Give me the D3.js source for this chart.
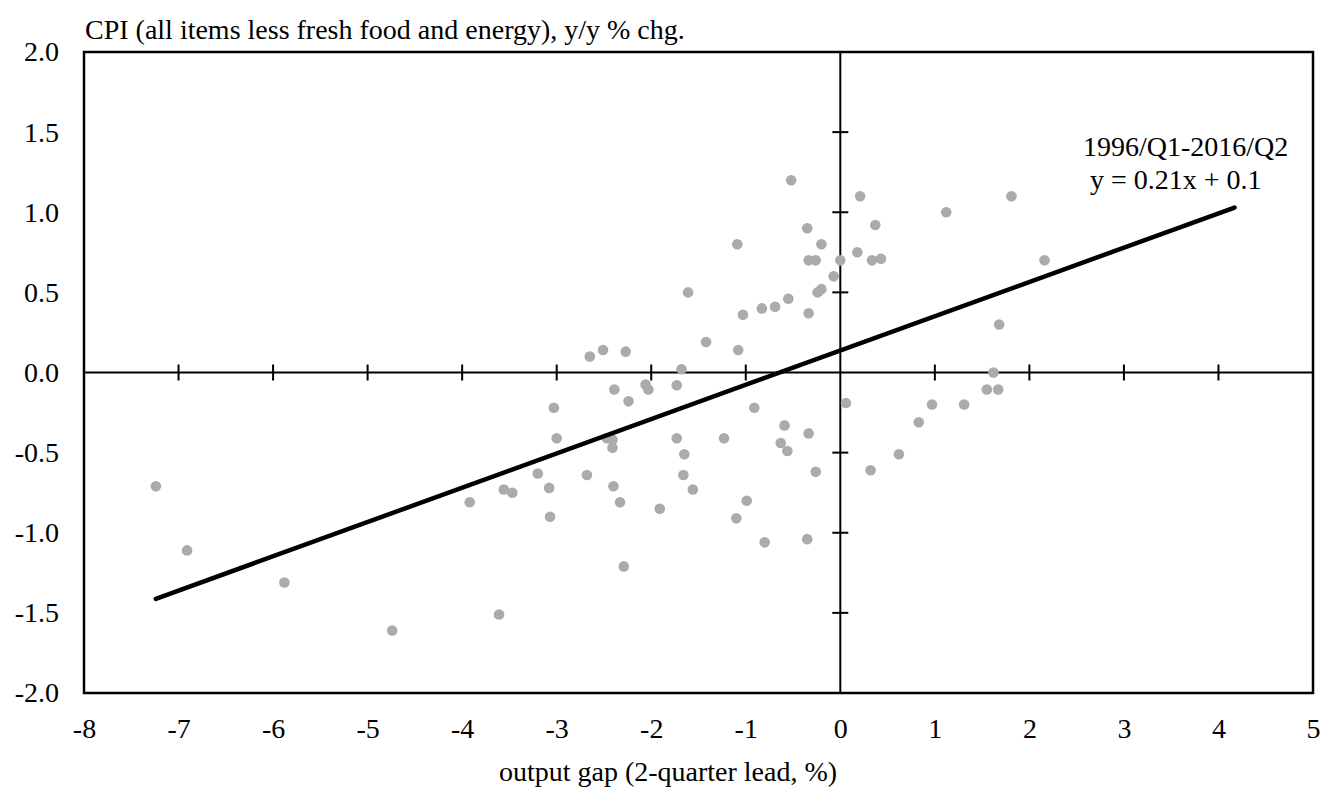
<!DOCTYPE html>
<html>
<head>
<meta charset="utf-8">
<script src="https://cdn.jsdelivr.net/npm/d3@7"></script>
<style>
  html, body { margin: 0; padding: 0; background: #ffffff; }
  svg { display: block; }
  text { font-family: "Liberation Serif", "Times New Roman", serif; fill: #000; }
</style>
</head>
<body>
<svg id="chart" width="1322" height="792"></svg>
<script>
// ---- data ----
const outputGap = [
  -0.52, 0.21, -0.35, 0.37, -1.09, -0.20, -0.335, -0.26, 0.0, 0.18,
  0.335, 0.43, -0.07, -0.24, -0.20, -1.61, -1.03, -0.83, -0.69, -0.55,
  -0.335, -1.42, -1.08, -2.65, -2.51, -2.27, -1.68, 1.12, 1.81, 2.16,
  1.68, 1.62, -2.39, -2.06, -2.03, -1.73, -2.24, -3.03, -0.91, 0.06,
  -0.59, -0.335, -3.0, -2.47, -2.41, -2.41, -1.73, -1.23, -0.63, -0.56,
  -1.65, 0.62, -3.2, -2.68, -1.66, -0.26, 0.32, -3.56, -3.47, -3.08,
  -2.40, -1.56, -2.33, -0.99, -1.91, -3.07, -1.10, -0.80, -0.35, -2.29,
  -7.24, -6.91, -5.88, -4.74, -3.61, -3.92, 1.55, 1.67, 0.97, 1.31, 0.83
];
const cpiCore = [
  1.20, 1.10, 0.90, 0.92, 0.80, 0.80, 0.70, 0.70, 0.70, 0.75,
  0.70, 0.71, 0.60, 0.50, 0.52, 0.50, 0.36, 0.40, 0.41, 0.46,
  0.37, 0.19, 0.14, 0.10, 0.14, 0.13, 0.02, 1.00, 1.10, 0.70,
  0.30, 0.00, -0.106, -0.075, -0.106, -0.08, -0.18, -0.22, -0.22, -0.19,
  -0.33, -0.38, -0.41, -0.41, -0.42, -0.47, -0.41, -0.41, -0.44, -0.49,
  -0.51, -0.51, -0.63, -0.64, -0.64, -0.62, -0.61, -0.73, -0.75, -0.72,
  -0.71, -0.73, -0.81, -0.80, -0.85, -0.90, -0.91, -1.06, -1.04, -1.21,
  -0.71, -1.11, -1.31, -1.61, -1.51, -0.81, -0.106, -0.106, -0.20, -0.20, -0.31
];
const xTicks = [-8, -7, -6, -5, -4, -3, -2, -1, 0, 1, 2, 3, 4, 5];
const yTicks = [-2.0, -1.5, -1.0, -0.5, 0.0, 0.5, 1.0, 1.5, 2.0];
const trendSlope = 0.214;
const trendIntercept = 0.137;
const trendRange = [-7.24, 4.17];
const yTitle = "CPI (all items less fresh food and energy), y/y % chg.";
const xTitle = "output gap (2-quarter lead, %)";
const annotation = ["1996/Q1-2016/Q2", "y = 0.21x + 0.1"];

// ---- layout ----
const svg = d3.select("#chart");
const plot = { left: 84, right: 1313, top: 52, bottom: 693 };
const fontSize = 28;

const x = d3.scaleLinear().domain([xTicks[0], xTicks[xTicks.length - 1]]).range([plot.left, plot.right]);
const y = d3.scaleLinear().domain([yTicks[0], yTicks[yTicks.length - 1]]).range([plot.bottom, plot.top]);

// y tick labels (left of plot)
const yAxis = svg.append("g")
  .attr("transform", `translate(${plot.left},0)`)
  .call(d3.axisLeft(y).tickValues(yTicks).tickSize(0).tickPadding(25).tickFormat(d => d.toFixed(1)));
yAxis.select(".domain").remove();
yAxis.selectAll("text").attr("font-size", fontSize).attr("font-family", "Liberation Serif");

// x tick labels (below plot)
const xAxis = svg.append("g")
  .attr("transform", `translate(0,${plot.bottom})`)
  .call(d3.axisBottom(x).tickValues(xTicks).tickSize(0).tickPadding(25).tickFormat(d => String(d)));
xAxis.select(".domain").remove();
xAxis.selectAll("text").attr("font-size", fontSize).attr("font-family", "Liberation Serif");

// zero lines
svg.append("line")
  .attr("x1", x(xTicks[0])).attr("x2", x(xTicks[xTicks.length - 1]))
  .attr("y1", y(0)).attr("y2", y(0))
  .attr("stroke", "#000").attr("stroke-width", 2);
svg.append("line")
  .attr("x1", x(0)).attr("x2", x(0))
  .attr("y1", y(yTicks[0])).attr("y2", y(yTicks[yTicks.length - 1]))
  .attr("stroke", "#000").attr("stroke-width", 2);

// crossing ticks on the zero lines
svg.append("g").selectAll("line")
  .data(xTicks.filter(d => d !== xTicks[0] && d !== xTicks[xTicks.length - 1] && d !== 0))
  .join("line")
  .attr("x1", d => x(d)).attr("x2", d => x(d))
  .attr("y1", y(0) - 8).attr("y2", y(0) + 8)
  .attr("stroke", "#000").attr("stroke-width", 2);
svg.append("g").selectAll("line")
  .data(yTicks.filter(d => d !== yTicks[0] && d !== yTicks[yTicks.length - 1] && d !== 0))
  .join("line")
  .attr("x1", x(0) - 8).attr("x2", x(0) + 8)
  .attr("y1", d => y(d)).attr("y2", d => y(d))
  .attr("stroke", "#000").attr("stroke-width", 2);

// plot border
svg.append("rect")
  .attr("x", plot.left).attr("y", plot.top)
  .attr("width", plot.right - plot.left).attr("height", plot.bottom - plot.top)
  .attr("fill", "none").attr("stroke", "#000").attr("stroke-width", 2.5);

// scatter points
const points = outputGap.map((g, i) => ({ g, c: cpiCore[i] }));
svg.append("g").selectAll("circle")
  .data(points)
  .join("circle")
  .attr("cx", d => x(d.g))
  .attr("cy", d => y(d.c))
  .attr("r", 5.3)
  .attr("fill", "#ababab");

// trend line
svg.append("path")
  .datum(trendRange.map(v => [v, trendSlope * v + trendIntercept]))
  .attr("d", d3.line().x(d => x(d[0])).y(d => y(d[1])))
  .attr("fill", "none").attr("stroke", "#000").attr("stroke-width", 4.5)
  .attr("stroke-linecap", "round");

// titles
svg.append("text")
  .attr("x", plot.left + 1).attr("y", 39)
  .attr("font-size", fontSize)
  .text(yTitle);
svg.append("text")
  .attr("x", 668).attr("y", 781)
  .attr("text-anchor", "middle")
  .attr("font-size", fontSize)
  .text(xTitle);

// annotation
svg.append("text").attr("x", 1083).attr("y", 156).attr("font-size", fontSize).text(annotation[0]);
svg.append("text").attr("x", 1090).attr("y", 189).attr("font-size", fontSize).text(annotation[1]);
</script>
</body>
</html>
